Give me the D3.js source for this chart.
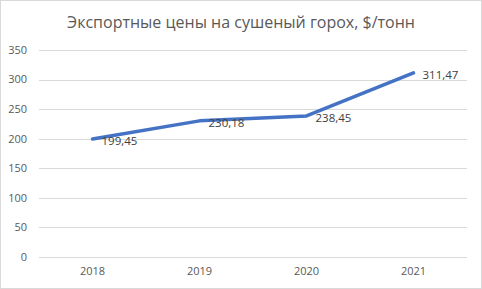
<!DOCTYPE html>
<html>
<head>
<meta charset="utf-8">
<script src="https://cdn.jsdelivr.net/npm/d3@7"></script>
<style>
  body { margin: 0; background: #fff; }
  text { font-family: "Open Sans", "Noto Sans", sans-serif; fill: #595959; }
</style>
</head>
<body>
<div class="viz"></div>
<script>
const years = ['2018', '2019', '2020', '2021'];
const prices = [199.45, 230.18, 238.45, 311.47];
const yTicks = [0, 50, 100, 150, 200, 250, 300, 350];
const title = 'Экспортные цены на сушеный горох, $/тонн';

const w = 482;
const h = 289;
const svg = d3.select('.viz').append('svg')
    .attr('width', w)
    .attr('height', h);

svg.append('rect')
    .attr('x', 0.5).attr('y', 0.5)
    .attr('width', w - 1).attr('height', h - 1)
    .attr('fill', '#fff')
    .attr('stroke', '#d9d9d9');

svg.append('text')
    .attr('x', 241).attr('y', 28)
    .attr('text-anchor', 'middle')
    .style('font-size', '16px')
    .text(title);

const x = d3.scaleBand().domain(years).range([39, 467]);
const y = d3.scaleLinear().domain([0, 350]).range([257, 50]);

// gridlines
svg.append('g').selectAll('line')
    .data(yTicks)
    .enter().append('line')
    .attr('x1', 39).attr('x2', 467)
    .attr('y1', d => Math.round(y(d)) + 0.5)
    .attr('y2', d => Math.round(y(d)) + 0.5)
    .attr('stroke', '#d9d9d9');

svg.append('g').selectAll('text')
    .data(yTicks)
    .enter().append('text')
    .attr('x', 27)
    .attr('y', d => y(d))
    .attr('dy', '0.35em')
    .attr('text-anchor', 'end')
    .style('font-size', '11px')
    .text(d => d);

svg.append('g').selectAll('text')
    .data(years)
    .enter().append('text')
    .attr('x', d => x(d) + x.bandwidth() / 2)
    .attr('y', 275)
    .attr('text-anchor', 'middle')
    .style('font-size', '11px')
    .text(d => d);

const pts = years.map((yr, i) => ({ yr, v: prices[i] }));

const line = d3.line()
    .x(d => x(d.yr) + x.bandwidth() / 2)
    .y(d => y(d.v));

svg.append('path')
    .datum(pts)
    .attr('d', line)
    .attr('fill', 'none')
    .attr('stroke', '#4472c4')
    .attr('stroke-width', 3.5)
    .attr('stroke-linecap', 'round')
    .attr('stroke-linejoin', 'round');

svg.append('g').selectAll('text')
    .data(pts)
    .enter().append('text')
    .attr('x', d => x(d.yr) + x.bandwidth() / 2 + 9)
    .attr('y', d => y(d.v) + 2)
    .attr('dy', '0.35em')
    .style('font-size', '11.5px')
    .style('fill', '#404040')
    .text(d => d3.format('.2f')(d.v).replace('.', ','));
</script>
</body>
</html>
